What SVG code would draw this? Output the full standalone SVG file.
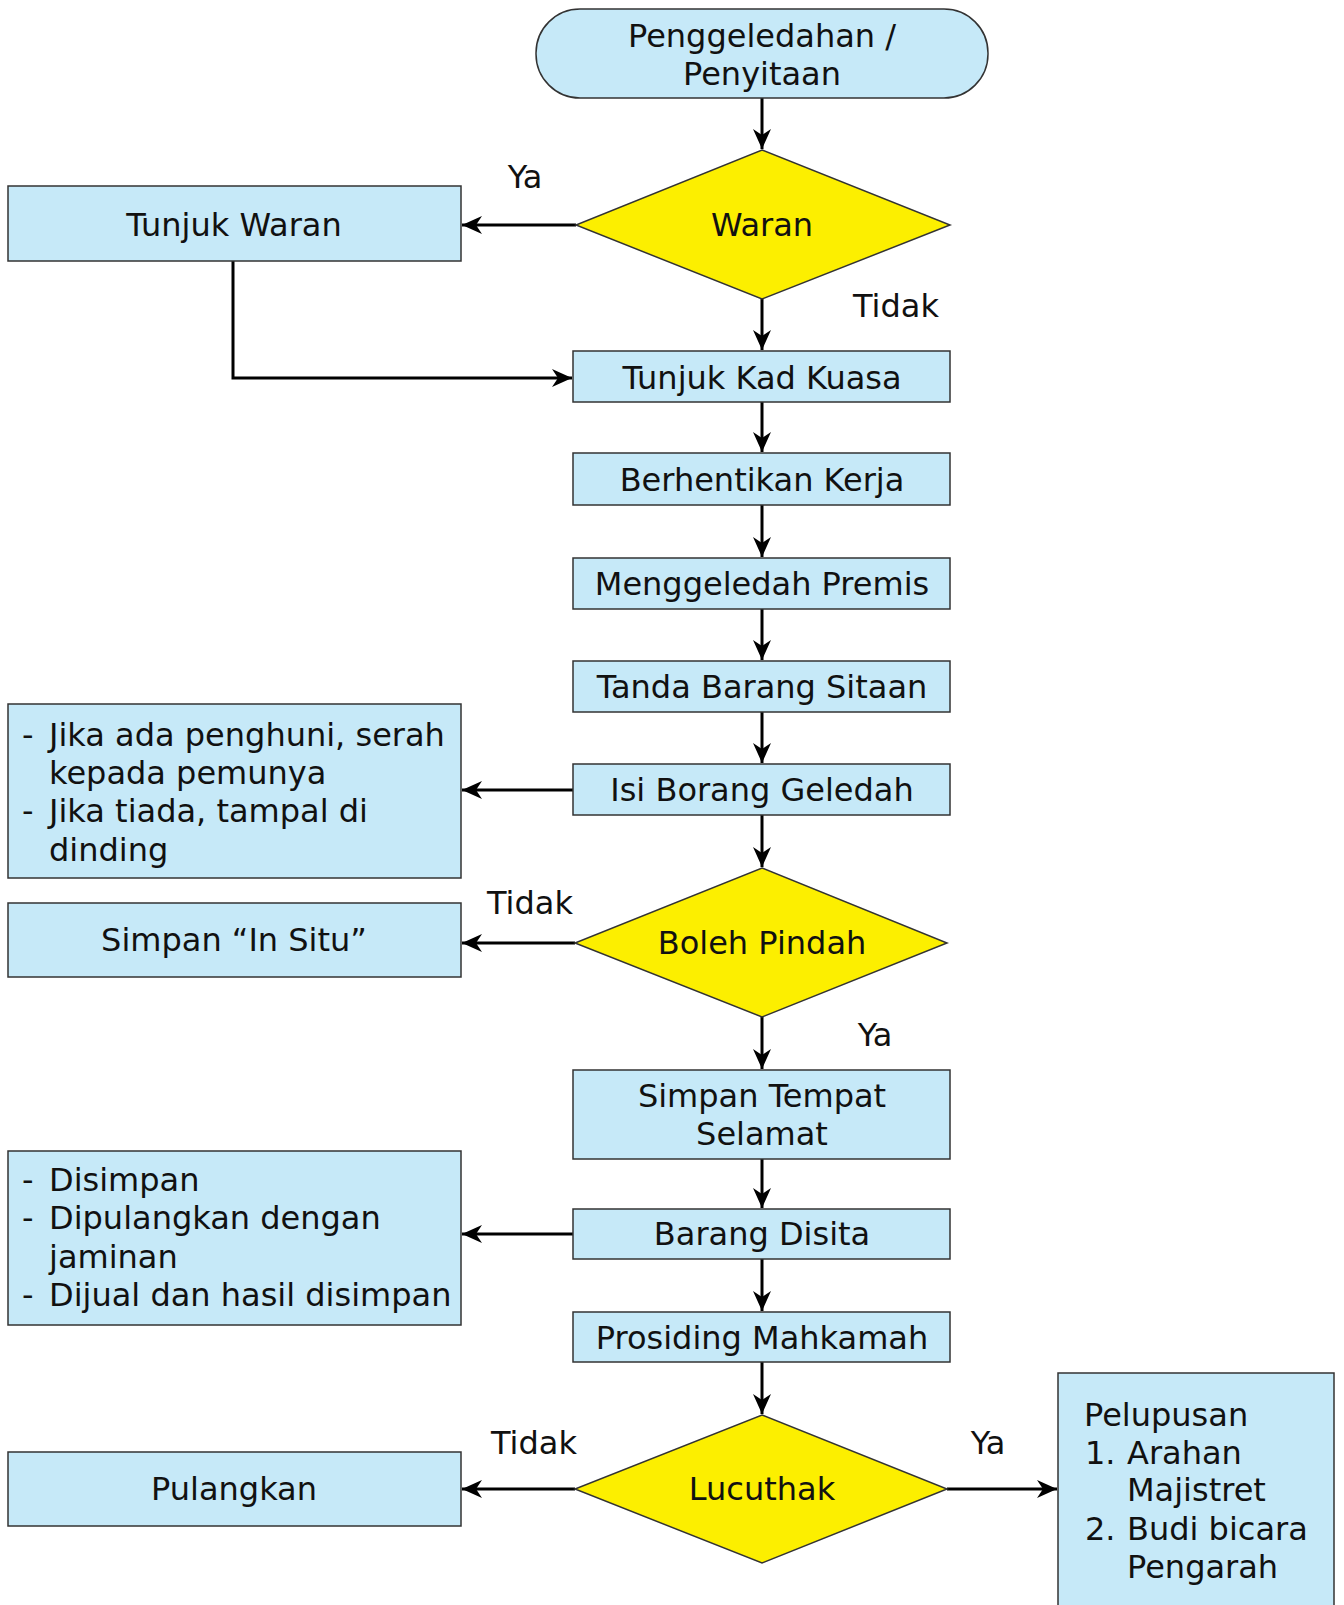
<svg xmlns="http://www.w3.org/2000/svg" width="1344" height="1605" viewBox="0 0 1344 1605">
<defs>
<style>
.box{fill:#C6E9F8;stroke:#333;stroke-width:1.5}
.dia{fill:#FCEF00;stroke:#333;stroke-width:1.5}
text{font-family:"DejaVu Sans",sans-serif;font-size:32px;fill:#111}
.c{text-anchor:middle}
.con{fill:none;stroke:#000;stroke-width:3;marker-end:url(#ah)}
</style>
<marker id="ah" markerUnits="userSpaceOnUse" markerWidth="22" markerHeight="20" refX="20" refY="10" orient="auto">
<path d="M0,1 L20,10 L0,19 L6,10 z" fill="#000"/>
</marker>
</defs>
<rect width="1344" height="1605" fill="#fff"/>
<g id="connectors">
<path class="con" d="M762,98 V149"/>
<path class="con" d="M762,299 V350"/>
<path class="con" d="M576,225 H462"/>
<path class="con" d="M233,261 V378 H572"/>
<path class="con" d="M762,402 V452"/>
<path class="con" d="M762,505 V557"/>
<path class="con" d="M762,609 V660"/>
<path class="con" d="M762,712 V763"/>
<path class="con" d="M573,790 H462"/>
<path class="con" d="M762,815 V867"/>
<path class="con" d="M575,943 H462"/>
<path class="con" d="M762,1017 V1069"/>
<path class="con" d="M762,1159 V1208"/>
<path class="con" d="M573,1234 H462"/>
<path class="con" d="M762,1259 V1311"/>
<path class="con" d="M762,1362 V1414"/>
<path class="con" d="M575,1489 H462"/>
<path class="con" d="M947,1489 H1057"/>
<text class="c" x="525" y="188">Ya</text>
<text class="c" x="896" y="317">Tidak</text>
<text class="c" x="530" y="914">Tidak</text>
<text class="c" x="875" y="1046">Ya</text>
<text class="c" x="534" y="1454">Tidak</text>
<text class="c" x="988" y="1454">Ya</text>
</g>
<g id="start">
<rect class="box" x="536" y="9" width="452" height="89" rx="44" ry="44"/>
<text class="c" x="762" y="47">Penggeledahan /</text>
<text class="c" x="762" y="85">Penyitaan</text>
</g>
<g id="waran">
<polygon class="dia" points="762,150 950,225 762,299 576,225"/>
<text class="c" x="762" y="236">Waran</text>
</g>
<g id="tunjuk-waran">
<rect class="box" x="8" y="186" width="453" height="75"/>
<text class="c" x="234" y="236">Tunjuk Waran</text>
</g>
<g id="tunjuk-kad-kuasa">
<rect class="box" x="573" y="351" width="377" height="51"/>
<text class="c" x="762" y="389">Tunjuk Kad Kuasa</text>
</g>
<g id="berhentikan-kerja">
<rect class="box" x="573" y="453" width="377" height="52"/>
<text class="c" x="762" y="491">Berhentikan Kerja</text>
</g>
<g id="menggeledah-premis">
<rect class="box" x="573" y="558" width="377" height="51"/>
<text class="c" x="762" y="595">Menggeledah Premis</text>
</g>
<g id="tanda-barang-sitaan">
<rect class="box" x="573" y="661" width="377" height="51"/>
<text class="c" x="762" y="698">Tanda Barang Sitaan</text>
</g>
<g id="isi-borang-geledah">
<rect class="box" x="573" y="764" width="377" height="51"/>
<text class="c" x="762" y="801">Isi Borang Geledah</text>
</g>
<g id="penghuni">
<rect class="box" x="8" y="704" width="453" height="174"/>
<text x="22" y="746">-</text><text x="49" y="746">Jika ada penghuni, serah</text>
<text x="49" y="784">kepada pemunya</text>
<text x="22" y="822">-</text><text x="49" y="822">Jika tiada, tampal di</text>
<text x="49" y="861">dinding</text>
</g>
<g id="boleh-pindah">
<polygon class="dia" points="762,868 947,943 762,1017 575,943"/>
<text class="c" x="762" y="954">Boleh Pindah</text>
</g>
<g id="simpan-in-situ">
<rect class="box" x="8" y="903" width="453" height="74"/>
<text class="c" x="234" y="951">Simpan “In Situ”</text>
</g>
<g id="simpan-tempat-selamat">
<rect class="box" x="573" y="1070" width="377" height="89"/>
<text class="c" x="762" y="1107">Simpan Tempat</text>
<text class="c" x="762" y="1145">Selamat</text>
</g>
<g id="barang-disita">
<rect class="box" x="573" y="1209" width="377" height="50"/>
<text class="c" x="762" y="1245">Barang Disita</text>
</g>
<g id="disimpan">
<rect class="box" x="8" y="1151" width="453" height="174"/>
<text x="22" y="1191">-</text><text x="49" y="1191">Disimpan</text>
<text x="22" y="1229">-</text><text x="49" y="1229">Dipulangkan dengan</text>
<text x="49" y="1268">jaminan</text>
<text x="22" y="1306">-</text><text x="49" y="1306">Dijual dan hasil disimpan</text>
</g>
<g id="prosiding-mahkamah">
<rect class="box" x="573" y="1312" width="377" height="50"/>
<text class="c" x="762" y="1349">Prosiding Mahkamah</text>
</g>
<g id="lucuthak">
<polygon class="dia" points="762,1415 947,1489 762,1563 575,1489"/>
<text class="c" x="762" y="1500">Lucuthak</text>
</g>
<g id="pulangkan">
<rect class="box" x="8" y="1452" width="453" height="74"/>
<text class="c" x="234" y="1500">Pulangkan</text>
</g>
<g id="pelupusan">
<rect class="box" x="1058" y="1373" width="276" height="240"/>
<text x="1084" y="1426">Pelupusan</text>
<text x="1085" y="1464">1.</text><text x="1127" y="1464">Arahan</text>
<text x="1127" y="1501">Majistret</text>
<text x="1085" y="1540">2.</text><text x="1127" y="1540">Budi bicara</text>
<text x="1127" y="1578">Pengarah</text>
</g>
</svg>
